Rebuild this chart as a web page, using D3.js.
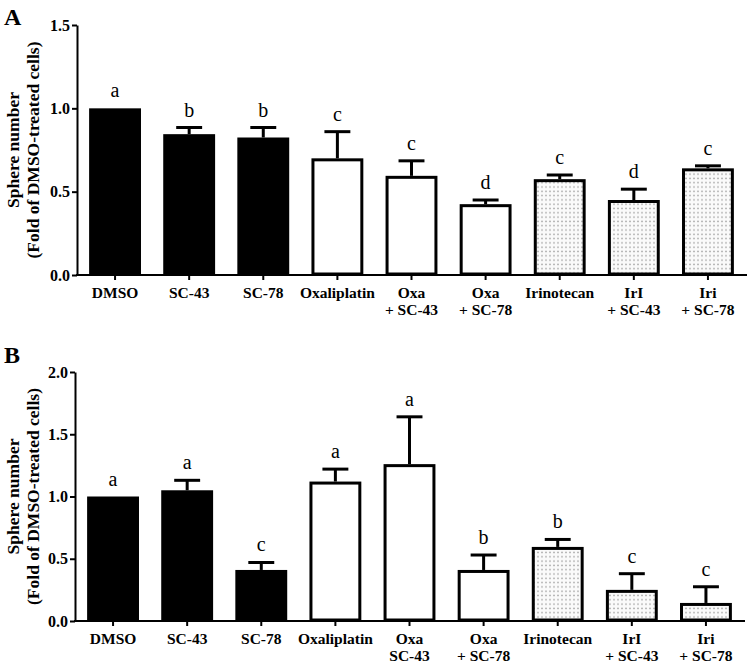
<!DOCTYPE html>
<html>
<head>
<meta charset="utf-8">
<script src="https://cdn.jsdelivr.net/npm/d3@7"></script>
<style>
  html, body { margin: 0; padding: 0; background: #fff; }
  svg { display: block; }
  text { font-family: "Liberation Serif", "Times New Roman", serif; }
</style>
</head>
<body>
<svg id="chart" width="750" height="665"></svg>
<script>
// ---- data ----
const categories = ["DMSO", "SC-43", "SC-78", "Oxaliplatin", "OxaSC43", "OxaSC78", "Irinotecan", "IriSC43", "IriSC78"];
const tickLabelsA = [["DMSO"], ["SC-43"], ["SC-78"], ["Oxaliplatin"], ["Oxa", "+ SC-43"], ["Oxa", "+ SC-78"], ["Irinotecan"], ["IrI", "+ SC-43"], ["Iri", "+ SC-78"]];
const tickLabelsB = [["DMSO"], ["SC-43"], ["SC-78"], ["Oxaliplatin"], ["Oxa", "SC-43"], ["Oxa", "+ SC-78"], ["Irinotecan"], ["IrI", "+ SC-43"], ["Iri", "+ SC-78"]];
const groups = ["solid", "solid", "solid", "open", "open", "open", "dotted", "dotted", "dotted"];

const meansA  = [1.00, 0.845, 0.825, 0.70, 0.595, 0.425, 0.575, 0.45, 0.64];
const errorsA = [0.00, 0.04, 0.06, 0.16, 0.09, 0.025, 0.025, 0.065, 0.015];
const lettersA = ["a", "b", "b", "c", "c", "d", "c", "d", "c"];

const meansB  = [1.00, 1.05, 0.41, 1.12, 1.26, 0.41, 0.595, 0.25, 0.145];
const errorsB = [0.00, 0.08, 0.06, 0.10, 0.38, 0.12, 0.06, 0.13, 0.13];
const lettersB = ["a", "a", "c", "a", "a", "b", "b", "c", "c"];

const yTicksA = [0, 0.5, 1.0, 1.5];
const yTicksB = [0, 0.5, 1.0, 1.5, 2.0];
const yTitle = ["Sphere number", "(Fold of DMSO-treated cells)"];

// ---- drawing ----
const svg = d3.select("#chart");
const defs = svg.append("defs");
const pat = defs.append("pattern").attr("id", "dots")
  .attr("patternUnits", "userSpaceOnUse").attr("width", 4).attr("height", 4.3);
pat.append("rect").attr("width", 4).attr("height", 4.3).attr("fill", "#fafafa");
pat.append("rect").attr("x", 1.3).attr("y", 1.4).attr("width", 1.4).attr("height", 1.4).attr("fill", "#9a9a9a");

const fillFor = g => g === "solid" ? "#000" : g === "open" ? "#fff" : "url(#dots)";

function panel(cfg) {
  const g = svg.append("g");
  const x = d3.scaleBand().domain(categories).range([cfg.x0, cfg.x1]).paddingInner(0.3).paddingOuter(0.15);
  const y = d3.scaleLinear().domain([0, cfg.ymax]).range([cfg.yBottom, cfg.yTop]);

  // y axis
  const ya = g.append("g").attr("transform", `translate(${cfg.x0 - 1},0)`)
    .call(d3.axisLeft(y).tickValues(cfg.yTicks).tickFormat(d3.format(".1f")).tickSize(5).tickSizeOuter(0).tickPadding(2));
  ya.select(".domain").attr("stroke-width", 2);
  ya.selectAll(".tick line").attr("stroke-width", 2);
  ya.selectAll(".tick text").attr("font-size", 16).attr("font-weight", "bold")
    .attr("font-family", '"Liberation Serif", serif').attr("fill", "#000");

  // x axis
  const xa = g.append("g").attr("transform", `translate(0,${cfg.yBottom})`)
    .call(d3.axisBottom(x).tickSize(5).tickSizeOuter(0).tickFormat(""));
  xa.select(".domain").attr("stroke-width", 2).attr("d", `M${cfg.x0 - 2},0H${cfg.x1 + 2}`);
  xa.selectAll(".tick line").attr("stroke-width", 2);
  xa.selectAll(".tick").each(function(d, i) {
    const t = d3.select(this).append("text")
      .attr("text-anchor", "middle").attr("font-size", 15.5).attr("font-weight", "bold")
      .attr("fill", "#000").attr("y", 23);
    cfg.labels[i].forEach((s, k) => {
      t.append("tspan").attr("x", 0).attr("dy", k === 0 ? 0 : 17).text(s);
    });
  });

  const data = categories.map((c, i) => ({ c, m: cfg.means[i], e: cfg.errors[i], l: cfg.letters[i], g: groups[i] }));
  const bw = x.bandwidth();

  // error bars
  const eb = g.append("g").attr("stroke", "#000").attr("stroke-width", 3);
  data.filter(d => d.e > 0).forEach(d => {
    const cx = x(d.c) + bw / 2;
    eb.append("line").attr("x1", cx).attr("x2", cx).attr("y1", y(d.m)).attr("y2", y(d.m + d.e));
    eb.append("line").attr("x1", cx - bw / 4).attr("x2", cx + bw / 4).attr("y1", y(d.m + d.e)).attr("y2", y(d.m + d.e));
  });

  // bars
  g.append("g").selectAll("rect").data(data).join("rect")
    .attr("x", d => x(d.c) + 1.5)
    .attr("width", bw - 3)
    .attr("y", d => y(d.m) + 1.5)
    .attr("height", d => y(0) - y(d.m) - 2.5)
    .attr("fill", d => fillFor(d.g))
    .attr("stroke", "#000").attr("stroke-width", 3);

  // letters
  g.append("g").selectAll("text").data(data).join("text")
    .attr("x", d => x(d.c) + bw / 2)
    .attr("y", d => y(d.m + d.e) - 11)
    .attr("text-anchor", "middle").attr("font-size", 20).attr("fill", "#000")
    .text(d => d.l);

  // y title
  const cy = (cfg.yTop + cfg.yBottom) / 2;
  const tt = g.append("text").attr("transform", `translate(${cfg.titleX},${cy}) rotate(-90)`)
    .attr("text-anchor", "middle").attr("font-size", 17.5).attr("font-weight", "bold").attr("fill", "#000");
  yTitle.forEach((s, k) => tt.append("tspan").attr("x", 0).attr("dy", k === 0 ? 0 : 20).text(s));

  // panel letter
  g.append("text").attr("x", 4).attr("y", cfg.letterY).attr("font-size", 24).attr("font-weight", "bold")
    .attr("fill", "#000").text(cfg.panel);
}

panel({ panel: "A", letterY: 25, x0: 78, x1: 745, yTop: 25, yBottom: 275, ymax: 1.5, yTicks: yTicksA,
        means: meansA, errors: errorsA, letters: lettersA, labels: tickLabelsA, titleX: 19 });
panel({ panel: "B", letterY: 363, x0: 76, x1: 743, yTop: 372, yBottom: 621, ymax: 2.0, yTicks: yTicksB,
        means: meansB, errors: errorsB, letters: lettersB, labels: tickLabelsB, titleX: 19 });
</script>
</body>
</html>
